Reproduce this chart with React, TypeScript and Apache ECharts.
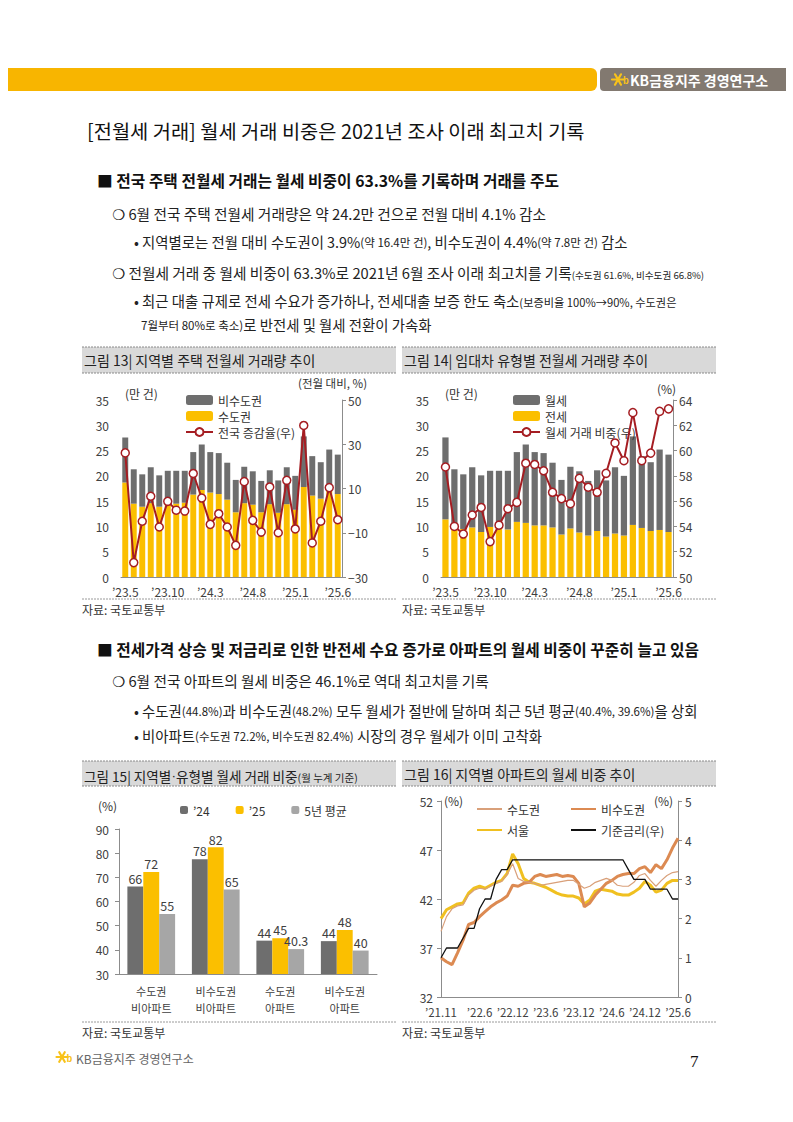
import React, { useEffect, useRef } from 'react';
import * as echarts from 'echarts';

const F = "'Noto Sans CJK KR','Noto Sans CJK SC','DejaVu Sans',sans-serif";

// ---------- Chart 13 / 14 (monthly, '23.5 ~ '25.6) ----------
const months26 = ["’23.5","’23.6","’23.7","’23.8","’23.9","’23.10","’23.11","’23.12","’24.1","’24.2","’24.3","’24.4","’24.5","’24.6","’24.7","’24.8","’24.9","’24.10","’24.11","’24.12","’25.1","’25.2","’25.3","’25.4","’25.5","’25.6"];
const metroVol = [18.7,14.5,13.9,14.6,13.9,14.5,14.5,14.7,16.3,17.2,16.7,16.4,15.3,12.8,14.6,14.3,12.8,14.4,12.7,14.4,13.3,17.8,16.1,15.5,17.1,16.4];
const nonMetroVol = [8.9,6.8,6.4,7.1,6.2,6.5,6.5,6.3,8.4,9.0,8.0,8.1,7.3,6.4,7.2,6.6,6.2,6.7,6.4,7.3,6.7,10.0,7.8,7.2,8.1,7.8];
const nationGrowth = [26.1,-23.5,-4.8,6.5,-7.4,4.2,0.2,-0.2,16.8,5.7,-6.2,-1.4,-7.4,-15.7,13.1,-4.4,-9.7,10.7,-10.0,13.7,-8.3,38.5,-14.6,-4.8,10.4,-4.1];

const jeonseVol = [11.4,9.8,9.5,9.8,8.9,9.9,9.6,9.4,10.9,10.7,10.2,10.2,9.8,8.4,9.6,8.8,8.2,9.1,8.0,8.6,8.2,10.3,9.7,9.1,9.3,8.9];
const wolseVol = [16.2,11.5,10.8,11.9,11.2,11.1,11.4,11.6,13.8,15.5,14.5,14.3,12.8,10.8,12.2,12.1,10.8,12.0,11.1,13.1,11.8,17.5,14.2,13.6,15.9,15.3];
const wolseShare = [58.7,54.0,53.4,54.9,55.5,52.8,54.1,55.4,55.9,59.0,58.9,58.4,56.7,56.2,55.8,57.8,57.1,56.7,58.2,60.6,59.2,63.0,59.2,59.8,63.1,63.3];

const growthTicks = [-30,-10,10,30,50];

// ---------- Chart 15 ----------
const cats15 = ["수도권\n비아파트","비수도권\n비아파트","수도권\n아파트","비수도권\n아파트"];
const share24 = [66.2,77.5,43.8,43.6];
const share25 = [72.2,82.4,44.8,48.2];
const share5y = [54.8,65.0,40.3,39.7];
const lab24 = ["66","78","44","44"];
const lab25 = ["72","82","45","48"];
const lab5y = ["55","65","40.3","40"];

// ---------- Chart 16 ('21.11 ~ '25.6) ----------
const months44 = ["’21.11","’21.12","’22.1","’22.2","’22.3","’22.4","’22.5","’22.6","’22.7","’22.8","’22.9","’22.10","’22.11","’22.12","’23.1","’23.2","’23.3","’23.4","’23.5","’23.6","’23.7","’23.8","’23.9","’23.10","’23.11","’23.12","’24.1","’24.2","’24.3","’24.4","’24.5","’24.6","’24.7","’24.8","’24.9","’24.10","’24.11","’24.12","’25.1","’25.2","’25.3","’25.4","’25.5","’25.6"];
const shownMonths16 = ["’21.11","’22.6","’22.12","’23.6","’23.12","’24.6","’24.12","’25.6"];
const seoulApt = [40.0,40.9,41.2,41.5,41.6,42.6,43.1,43.3,43.1,43.4,43.7,43.9,44.6,46.6,45.6,44.1,43.7,43.6,43.4,43.2,42.9,42.6,42.4,42.3,42.3,42.1,41.5,41.9,42.8,43.0,42.9,42.8,42.5,42.4,42.4,42.7,43.1,43.8,43.4,42.7,42.9,43.6,43.9,43.9];
const metroApt = [38.7,40.2,41.0,41.3,41.4,42.4,42.9,43.1,43.0,43.3,43.6,43.8,44.5,45.6,44.1,43.8,43.7,43.6,43.4,43.5,43.6,43.7,43.8,43.9,43.9,43.5,43.1,43.3,43.7,43.9,44.1,43.9,43.4,43.3,43.3,43.7,44.4,44.6,43.9,43.3,43.9,44.4,44.7,44.8];
const nonMetroApt = [36.0,35.6,35.3,36.5,37.8,39.4,39.6,40.2,40.7,41.2,41.6,41.9,42.3,43.4,43.3,43.6,43.7,44.3,44.5,44.3,44.4,44.5,44.3,44.4,44.3,43.6,41.2,41.6,42.4,43.0,43.6,43.9,44.3,44.5,44.6,44.6,45.1,45.3,44.7,45.5,45.1,46.0,47.2,48.2];
const baseRate = [1.0,1.25,1.25,1.25,1.5,1.75,1.75,2.25,2.5,2.5,3.0,3.25,3.25,3.5,3.5,3.5,3.5,3.5,3.5,3.5,3.5,3.5,3.5,3.5,3.5,3.5,3.5,3.5,3.5,3.5,3.5,3.5,3.5,3.5,3.25,3.0,3.0,3.0,2.75,2.75,2.75,2.75,2.5,2.5];
const leftTicks16 = [32,37,42,47,52];

const legendNames: Record<string, string> = { "수도권(아파트)": "수도권", "비수도권(아파트)": "비수도권" };

const YELLOW = '#fbbf00';
const DGREY = '#6e6e6e';
const LGREY = '#a6a6a6';
const RED = '#a51d22';
const AXIS = '#8c8c8c';
const TXT = '#404040';

function T(x: number, y: number, text: string, size: number, extra: any = {}) {
  return { type: 'text', x, y, z: 10, style: { text, fontSize: size, fontFamily: F, fill: '#222', verticalAlign: 'middle', ...extra } };
}
function R(x: number, y: number, parts: [string, string][], size: number, small: number) {
  const text = parts.map(([t, s]) => `{${s}|${t}}`).join('');
  return {
    type: 'text', x, y, z: 10,
    style: {
      text, verticalAlign: 'middle',
      rich: {
        a: { fontSize: size, fontFamily: F, fill: '#222', color: '#222', verticalAlign: 'bottom', lineHeight: size + 4 },
        s: { fontSize: small, fontFamily: F, fill: '#222', color: '#222', verticalAlign: 'bottom', lineHeight: size + 3 },
        d: { fontSize: size, fontFamily: "'Liberation Sans','DejaVu Sans',sans-serif", fill: '#222', color: '#222', verticalAlign: 'bottom', lineHeight: size + 4 },
      },
    },
  };
}
function headerBox(x: number, y: number, w: number, h: number, title: any) {
  return [
    { type: 'rect', shape: { x, y, width: w, height: h }, style: { fill: '#d9d9d9' } },
    { type: 'line', shape: { x1: x, y1: y, x2: x + w, y2: y }, style: { stroke: '#8a8a8a', lineWidth: 1, lineDash: [2, 1] } },
    { type: 'line', shape: { x1: x, y1: y + h, x2: x + w, y2: y + h }, style: { stroke: '#8a8a8a', lineWidth: 1, lineDash: [2, 1] } },
    title,
  ];
}
function source(x: number, y: number, w: number) {
  return [
    { type: 'line', shape: { x1: x, y1: y, x2: x + w, y2: y }, style: { stroke: '#9a9a9a', lineWidth: 1, lineDash: [2, 1] } },
    T(x, y + 10, '자료: 국토교통부', 12, { fill: '#333' }),
  ];
}
function star(cx: number, cy: number, r: number, color: string) {
  const lines: any[] = [];
  [0, 60, 120].forEach((a) => {
    const rad = (a * Math.PI) / 180;
    lines.push({ type: 'line', shape: { x1: cx - r * Math.cos(rad), y1: cy - r * Math.sin(rad), x2: cx + r * Math.cos(rad), y2: cy + r * Math.sin(rad) }, style: { stroke: color, lineWidth: 2.2, lineCap: 'round' } });
  });
  lines.push({ type: 'text', x: cx + r - 1, y: cy + 1, style: { text: 'b', fontSize: 9, fontWeight: 'bold', fontFamily: F, fill: color, verticalAlign: 'middle' } });
  return { type: 'group', children: lines };
}

const axisLbl = { fontSize: 12, color: TXT, fontFamily: F };
const legText = { fontSize: 12, color: '#333', fontFamily: F };

const option: any = {
  animation: false,
  backgroundColor: '#fff',
  textStyle: { fontFamily: F },
  grid: [
    { left: 121, top: 400, width: 221, height: 177 },
    { left: 441, top: 400, width: 232, height: 177 },
    { left: 119, top: 829, width: 258, height: 145 },
    { left: 441, top: 801, width: 237, height: 196 },
  ],
  legend: [
    { left: 180, top: 389, orient: 'vertical', itemWidth: 27, itemHeight: 10, itemGap: 4, data: ['비수도권', '수도권', '전국 증감율(우)'], textStyle: legText },
    { left: 507, top: 389, orient: 'vertical', itemWidth: 27, itemHeight: 10, itemGap: 4, data: ['월세', '전세', '월세 거래 비중(우)'], textStyle: legText },
    { left: 175, top: 799, orient: 'horizontal', itemWidth: 8, itemHeight: 8, itemGap: 26, data: ['’24', '’25', '5년 평균'], textStyle: legText },
    { left: 471, top: 798, orient: 'vertical', itemWidth: 25, itemHeight: 10, itemGap: 9, itemStyle: { opacity: 0 }, data: ['수도권(아파트)', '서울'], formatter: (n: string) => legendNames[n] || n, textStyle: legText },
    { left: 565, top: 798, orient: 'vertical', itemWidth: 25, itemHeight: 10, itemGap: 9, itemStyle: { opacity: 0 }, data: ['비수도권(아파트)', '기준금리(우)'], formatter: (n: string) => legendNames[n] || n, textStyle: legText },
  ],
  xAxis: [
    { type: 'category', gridIndex: 0, data: months26, axisLine: { lineStyle: { color: AXIS } }, axisTick: { show: false }, axisLabel: { ...axisLbl, interval: 4, margin: 8 } },
    { type: 'category', gridIndex: 1, data: months26, axisLine: { lineStyle: { color: AXIS } }, axisTick: { show: false }, axisLabel: { ...axisLbl, interval: 4, margin: 8 } },
    { type: 'category', gridIndex: 2, data: cats15, axisLine: { lineStyle: { color: AXIS } }, axisTick: { show: false }, axisLabel: { fontSize: 11, color: TXT, fontFamily: F, lineHeight: 17, margin: 8 } },
    { type: 'category', gridIndex: 3, data: months44, boundaryGap: false, axisLine: { lineStyle: { color: AXIS } }, axisTick: { show: false }, axisLabel: { fontSize: 11.5, color: TXT, fontFamily: F, margin: 9, interval: (i: number, v: string) => shownMonths16.includes(v) } },
  ],
  yAxis: [
    { type: 'value', gridIndex: 0, min: 0, max: 35, interval: 5, axisLine: { show: false }, axisTick: { show: false }, splitLine: { show: false }, axisLabel: { ...axisLbl, margin: 12 } },
    { type: 'value', gridIndex: 0, position: 'right', min: -30, max: 50,
      axisLine: { show: true, lineStyle: { color: AXIS } },
      axisTick: { show: true, length: 4, customValues: growthTicks, lineStyle: { color: AXIS } },
      splitLine: { show: false },
      axisLabel: { ...axisLbl, margin: 6, customValues: growthTicks, formatter: (v: number) => (v < 0 ? '−' + Math.abs(v) : String(v)) } },
    { type: 'value', gridIndex: 1, min: 0, max: 35, interval: 5, axisLine: { show: false }, axisTick: { show: false }, splitLine: { show: false }, axisLabel: { ...axisLbl, margin: 12 } },
    { type: 'value', gridIndex: 1, position: 'right', min: 50, max: 64, interval: 2,
      axisLine: { show: true, lineStyle: { color: AXIS } },
      axisTick: { show: true, length: 4, lineStyle: { color: AXIS } },
      splitLine: { show: false }, axisLabel: { ...axisLbl, margin: 6 } },
    { type: 'value', gridIndex: 2, min: 30, max: 90, interval: 10,
      axisLine: { show: true, lineStyle: { color: AXIS } },
      axisTick: { show: true, length: 4, lineStyle: { color: AXIS } },
      splitLine: { show: false }, axisLabel: { ...axisLbl, margin: 10 } },
    { type: 'value', gridIndex: 3, min: 32, max: 52,
      axisLine: { show: true, lineStyle: { color: AXIS } },
      axisTick: { show: true, length: 4, customValues: leftTicks16, lineStyle: { color: AXIS } },
      splitLine: { show: false }, axisLabel: { ...axisLbl, margin: 8, customValues: leftTicks16 } },
    { type: 'value', gridIndex: 3, position: 'right', min: 0, max: 5, interval: 1,
      axisLine: { show: true, lineStyle: { color: AXIS } },
      axisTick: { show: true, length: 4, lineStyle: { color: AXIS } },
      splitLine: { show: false }, axisLabel: { ...axisLbl, margin: 7 } },
  ],
  series: [
    { name: '수도권', type: 'bar', xAxisIndex: 0, yAxisIndex: 0, stack: 'vol13', data: metroVol, barCategoryGap: '30%', itemStyle: { color: YELLOW } },
    { name: '비수도권', type: 'bar', xAxisIndex: 0, yAxisIndex: 0, stack: 'vol13', data: nonMetroVol, itemStyle: { color: DGREY } },
    { name: '전국 증감율(우)', type: 'line', xAxisIndex: 0, yAxisIndex: 1, data: nationGrowth, symbol: 'circle', symbolSize: 8, showAllSymbol: true, z: 5,
      lineStyle: { color: RED, width: 2 }, itemStyle: { color: '#fff', borderColor: RED, borderWidth: 1.5 } },

    { name: '전세', type: 'bar', xAxisIndex: 1, yAxisIndex: 2, stack: 'vol14', data: jeonseVol, barCategoryGap: '30%', itemStyle: { color: YELLOW } },
    { name: '월세', type: 'bar', xAxisIndex: 1, yAxisIndex: 2, stack: 'vol14', data: wolseVol, itemStyle: { color: DGREY } },
    { name: '월세 거래 비중(우)', type: 'line', xAxisIndex: 1, yAxisIndex: 3, data: wolseShare, symbol: 'circle', symbolSize: 8, showAllSymbol: true, z: 5,
      lineStyle: { color: RED, width: 2 }, itemStyle: { color: '#fff', borderColor: RED, borderWidth: 1.5 } },

    { name: '’24', type: 'bar', xAxisIndex: 2, yAxisIndex: 4, data: share24, barGap: '0%', barCategoryGap: '26%', itemStyle: { color: DGREY },
      label: { show: true, position: 'top', distance: 2, fontSize: 12.5, color: TXT, fontFamily: F, formatter: (p: any) => lab24[p.dataIndex] } },
    { name: '’25', type: 'bar', xAxisIndex: 2, yAxisIndex: 4, data: share25, barGap: '0%', barCategoryGap: '26%', itemStyle: { color: YELLOW },
      label: { show: true, position: 'top', distance: 2, fontSize: 12.5, color: TXT, fontFamily: F, formatter: (p: any) => lab25[p.dataIndex] } },
    { name: '5년 평균', type: 'bar', xAxisIndex: 2, yAxisIndex: 4, data: share5y, barGap: '0%', barCategoryGap: '26%', itemStyle: { color: LGREY },
      label: { show: true, position: 'top', distance: 2, fontSize: 12.5, color: TXT, fontFamily: F, formatter: (p: any) => lab5y[p.dataIndex] } },

    { name: '서울', type: 'line', xAxisIndex: 3, yAxisIndex: 5, data: seoulApt, symbol: 'none', lineStyle: { color: '#f0c020', width: 3 }, itemStyle: { color: '#f0c020' } },
    { name: '비수도권(아파트)', type: 'line', xAxisIndex: 3, yAxisIndex: 5, data: nonMetroApt, symbol: 'none', lineStyle: { color: '#dc8a52', width: 3 }, itemStyle: { color: '#dc8a52' } },
    { name: '수도권(아파트)', type: 'line', xAxisIndex: 3, yAxisIndex: 5, data: metroApt, symbol: 'none', lineStyle: { color: '#d9a07a', width: 1.2 }, itemStyle: { color: '#d9a07a' } },
    { name: '기준금리(우)', type: 'line', xAxisIndex: 3, yAxisIndex: 6, data: baseRate, symbol: 'none', lineStyle: { color: '#111', width: 1.3 }, itemStyle: { color: '#111' } },
  ],
  graphic: [
    // page header
    { type: 'rect', shape: { x: 8, y: 68, width: 589, height: 23, r: [0, 6, 6, 0] }, style: { fill: '#f8b500' } },
    { type: 'rect', shape: { x: 600, y: 68, width: 186, height: 23, r: [4, 0, 0, 4] }, style: { fill: '#827970' } },
    star(618, 79.5, 6, '#f8c21a'),
    T(630, 80, 'KB금융지주 경영연구소', 14, { fill: '#fff', fontWeight: 'bold' }),

    T(87, 130, '[전월세 거래] 월세 거래 비중은 2021년 조사 이래 최고치 기록', 19.8, { fill: '#111' }),

    T(97, 180, '■ 전국 주택 전월세 거래는 월세 비중이 63.3%를 기록하며 거래를 주도', 15.75, { fontWeight: 'bold', fill: '#111' }),
    T(112, 213, '❍ 6월 전국 주택 전월세 거래량은 약 24.2만 건으로 전월 대비 4.1% 감소', 14.7),
    R(134, 239, [['• 지역별로는 전월 대비 수도권이 3.9%', 'a'], ['(약 16.4만 건)', 's'], [', 비수도권이 4.4%', 'a'], ['(약 7.8만 건)', 's'], [' 감소', 'a']], 14.4, 11.5),
    R(112, 270, [['❍ 전월세 거래 중 월세 비중이 63.3%로 2021년 6월 조사 이래 최고치를 기록', 'a'], ['(수도권 61.6%, 비수도권 66.8%)', 's']], 14.7, 9.6),
    R(134, 298, [['• 최근 대출 규제로 전세 수요가 증가하나, 전세대출 보증 한도 축소', 'a'], ['(보증비율 100%→90%, 수도권은', 's']], 14.4, 11.2),
    R(141, 322, [['7월부터 80%로 축소)', 's'], ['로 반전세 및 월세 전환이 가속화', 'a']], 14.4, 11.5),

    ...headerBox(82, 347, 314, 26, T(84, 360, '그림 13| 지역별 주택 전월세 거래량 추이', 14)),
    ...headerBox(402, 347, 314, 26, T(404, 360, '그림 14| 임대차 유형별 전월세 거래량 추이', 14)),
    T(125, 393, '(만 건)', 12, { fill: '#333' }),
    T(298, 383, '(전월 대비, %)', 11.5, { fill: '#333' }),
    T(445, 393, '(만 건)', 12, { fill: '#333' }),
    T(657, 388, '(%)', 12, { fill: '#333' }),
    ...source(82, 599, 314),
    ...source(402, 599, 314),

    T(97, 649, '■ 전세가격 상승 및 저금리로 인한 반전세 수요 증가로 아파트의 월세 비중이 꾸준히 늘고 있음', 15.75, { fontWeight: 'bold', fill: '#111' }),
    T(112, 680, '❍ 6월 전국 아파트의 월세 비중은 46.1%로 역대 최고치를 기록', 14.7),
    R(134, 708, [['• 수도권', 'a'], ['(44.8%)', 's'], ['과 비수도권', 'a'], ['(48.2%)', 's'], [' 모두 월세가 절반에 달하며 최근 5년 평균', 'a'], ['(40.4%, 39.6%)', 's'], ['을 상회', 'a']], 14.4, 11.5),
    R(134, 733, [['• 비아파트', 'a'], ['(수도권 72.2%, 비수도권 82.4%)', 's'], [' 시장의 경우 월세가 이미 고착화', 'a']], 14.4, 11.5),

    ...headerBox(82, 761, 314, 25, R(84, 774, [['그림 15| 지역별', 'a'], ['·', 'd'], ['유형별 월세 거래 비중', 'a'], ['(월 누계 기준)', 's']], 13.6, 10.5)),
    ...headerBox(402, 761, 314, 25, T(404, 774, '그림 16| 지역별 아파트의 월세 비중 추이', 14)),
    T(98, 805, '(%)', 12, { fill: '#333' }),
    T(444, 800, '(%)', 12, { fill: '#333' }),
    T(654, 800, '(%)', 12, { fill: '#333' }),
    ...source(82, 1022, 314),
    ...source(402, 1022, 314),

    // footer
    star(62, 1057, 5.5, '#f8c21a'),
    T(76, 1058, 'KB금융지주 경영연구소', 12, { fill: '#666' }),
    T(690, 1061, '7', 17, { fontFamily: "'Liberation Serif','DejaVu Serif',serif", fill: '#111' }),
  ],
};

export default function App() {
  const ref = useRef<HTMLDivElement>(null);
  useEffect(() => {
    const chart = echarts.init(ref.current!, null, { renderer: 'svg' });
    chart.setOption(option);
    return () => chart.dispose();
  }, []);
  return <div ref={ref} style={{ position: 'absolute', left: 0, top: 0, width: 793, height: 1122, background: '#fff' }} />;
}
